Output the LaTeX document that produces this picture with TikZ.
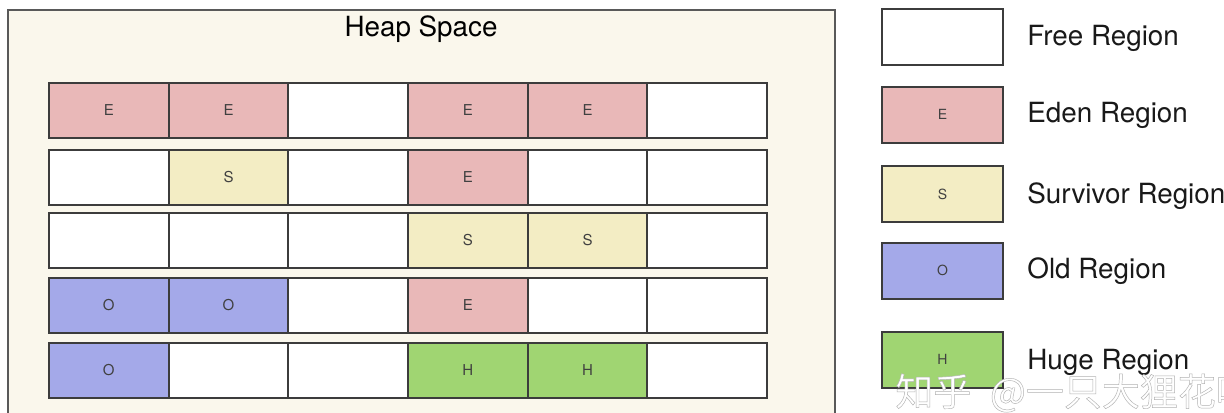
\documentclass[tikz,border=0pt]{standalone}
\usepackage{fontspec}
\setmainfont{TeX Gyre Heros}
\newfontfamily\cjk[FakeBold=1.2]{Noto Sans CJK SC}

\definecolor{heapbg}{RGB}{250,247,236}
\definecolor{edenred}{RGB}{233,184,184}
\definecolor{survyellow}{RGB}{243,237,196}
\definecolor{oldblue}{RGB}{164,169,233}
\definecolor{hugegreen}{RGB}{160,213,114}
\definecolor{edgegray}{RGB}{60,60,60}

\tikzset{
  region/.style={draw=edgegray, line width=1pt, minimum width=59.85pt,
    minimum height=27.5pt, inner sep=0pt, font=\fontsize{7.5}{9}\selectfont, text=black!75},
  freecell/.style={region, fill=white},
  edencell/.style={region, fill=edenred},
  survcell/.style={region, fill=survyellow},
  oldcell/.style={region, fill=oldblue},
  hugecell/.style={region, fill=hugegreen},
  legendbox/.style={minimum width=60.5pt, minimum height=28pt, font=\fontsize{7}{8}\selectfont},
  legendtext/.style={anchor=west, inner sep=0pt, font=\fontsize{13.9}{16}\selectfont, text=black!90},
  wmark/.style={anchor=west, inner sep=0pt, font=\cjk\fontsize{19}{22}\selectfont, text=white},
}

\begin{document}
\begin{tikzpicture}[x=0.5pt, y=-0.5pt]
  \useasboundingbox (0,0) rectangle (1224,412);
  \clip (0,0) rectangle (1224,412);
  \fill [white] (0,0) rectangle (1224,412);

  % heap space
  \draw [fill=heapbg, draw=gray!70!black, line width=0.8pt] (8,10) rectangle (835,440);
  \node (title) at (421,29) [font=\fontsize{13.9}{16}\selectfont] {Heap Space};

  % row 1
  \node [edencell] (r1c1) at (108.8,110.5) {E};
  \node [edencell] (r1c2) at (228.5,110.5) {E};
  \node [freecell] (r1c3) at (348.2,110.5) {};
  \node [edencell] (r1c4) at (467.8,110.5) {E};
  \node [edencell] (r1c5) at (587.5,110.5) {E};
  \node [freecell] (r1c6) at (707.2,110.5) {};
  % row 2
  \node [freecell] (r2c1) at (108.8,177) {};
  \node [survcell] (r2c2) at (228.5,177) {S};
  \node [freecell] (r2c3) at (348.2,177) {};
  \node [edencell] (r2c4) at (467.8,177) {E};
  \node [freecell] (r2c5) at (587.5,177) {};
  \node [freecell] (r2c6) at (707.2,177) {};
  % row 3
  \node [freecell] (r3c1) at (108.8,240) {};
  \node [freecell] (r3c2) at (228.5,240) {};
  \node [freecell] (r3c3) at (348.2,240) {};
  \node [survcell] (r3c4) at (467.8,240) {S};
  \node [survcell] (r3c5) at (587.5,240) {S};
  \node [freecell] (r3c6) at (707.2,240) {};
  % row 4
  \node [oldcell] (r4c1) at (108.8,305.5) {O};
  \node [oldcell] (r4c2) at (228.5,305.5) {O};
  \node [freecell] (r4c3) at (348.2,305.5) {};
  \node [edencell] (r4c4) at (467.8,305.5) {E};
  \node [freecell] (r4c5) at (587.5,305.5) {};
  \node [freecell] (r4c6) at (707.2,305.5) {};
  % row 5
  \node [oldcell] (r5c1) at (108.8,370.5) {O};
  \node [freecell] (r5c2) at (228.5,370.5) {};
  \node [freecell] (r5c3) at (348.2,370.5) {};
  \node [hugecell] (r5c4) at (467.8,370.5) {H};
  \node [hugecell] (r5c5) at (587.5,370.5) {H};
  \node [freecell] (r5c6) at (707.2,370.5) {};

  % legend
  \node [freecell, legendbox] (kfree) at (942.5,37) {};
  \node [edencell, legendbox] (keden) at (942.5,114.5) {E};
  \node [survcell, legendbox] (ksurv) at (942.5,194) {S};
  \node [oldcell, legendbox] (kold) at (942.5,270.5) {O};
  \node [hugecell, legendbox] (khuge) at (942.5,359.5) {H};
  \node [legendtext] (tfree) at (1027,38) {Free Region};
  \node [legendtext] (teden) at (1027,115) {Eden Region};
  \node [legendtext] (tsurv) at (1027,196) {Survivor Region};
  \node [legendtext] (told) at (1027,271) {Old Region};
  \node [legendtext] (thuge) at (1027,362) {Huge Region};

  % watermark
  \node [wmark] (wm) at (895,393) {\pgfsetstrokecolor{gray!60}知乎\hspace{5pt} @一只大狸花喵};
\end{tikzpicture}
\end{document}
